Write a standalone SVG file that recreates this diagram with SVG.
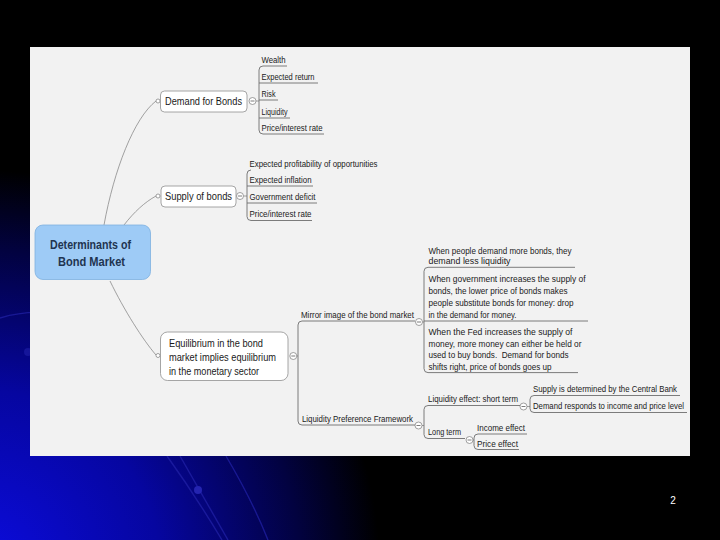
<svg xmlns="http://www.w3.org/2000/svg" width="720" height="540" viewBox="0 0 720 540">
<defs>
<radialGradient id="bg" gradientUnits="userSpaceOnUse" cx="-20" cy="570" r="400">
<stop offset="0" stop-color="#0c0ce0"/>
<stop offset="0.45" stop-color="#0606a0"/>
<stop offset="0.8" stop-color="#020240"/>
<stop offset="1" stop-color="#000000"/>
</radialGradient>
<style>
.t{font-family:"Liberation Sans",Arial,sans-serif;fill:#1a1a1a}
.leaf{font-size:9.5px}
.node{font-size:11.5px}
.root{font-size:13px;font-weight:bold;fill:#1f3450}
.box{fill:#ffffff;stroke:#8f8f8f;stroke-width:0.8}
.ln{fill:none;stroke:#8a8a8a;stroke-width:0.8}
.ul{fill:none;stroke:#6e6e6e;stroke-width:0.9}
.cc{fill:#ffffff;stroke:#7a7a7a;stroke-width:0.7}
.deco{fill:none;stroke:#2222a8;stroke-width:1.4;opacity:0.7}
</style>
</defs>
<rect width="720" height="540" fill="#000"/>
<rect width="720" height="540" fill="url(#bg)"/>
<path class="deco" d="M0,318 Q60,300 120,340"/>
<circle cx="28" cy="352" r="4" fill="#2020a8" opacity="0.6"/>
<path class="deco" d="M167,456 Q195,495 222,540"/>
<path class="deco" d="M180,456 Q205,500 228,540"/>
<path class="deco" d="M226,456 Q252,500 268,540"/>
<circle cx="198" cy="490" r="4" fill="#2424b0"/>
<rect x="30" y="47" width="660" height="409" fill="#f2f2f2"/>
<text x="673" y="504" font-family="Liberation Sans,Arial,sans-serif" font-size="10" fill="#ffffff" text-anchor="middle">2</text>

<g id="connectors">
<path class="ln" d="M104,225 C114,170 134,118 156,101"/>
<path class="ln" d="M124,225 C134,212 145,202 156,196"/>
<path class="ln" d="M110,281 C124,310 143,340 156,355"/>
<circle cx="158" cy="101" r="2" class="cc"/>
<circle cx="158" cy="196" r="2" class="cc"/>
<circle cx="158" cy="355.5" r="2" class="cc"/>
<path class="ln" d="M256,101 H259"/>
<path class="ul" d="M263,66 Q259,66 259,70 V130 Q259,134 263,134"/>
<path class="ln" d="M243.5,196 H247"/>
<path class="ul" d="M251,170 Q247,170 247,174 V216.5 Q247,220.5 251,220.5"/>
<path class="ln" d="M296.8,356 H298"/>
<path class="ul" d="M302,321 Q298,321 298,325 V421 Q298,425 302,425"/>
<path class="ln" d="M422.5,322 H424"/>
<path class="ul" d="M428,267.3 Q424,267.3 424,271.3 V368.6 Q424,372.6 428,372.6"/>
<path class="ln" d="M422,425.5 H424"/>
<path class="ul" d="M428,405.5 Q424,405.5 424,409.5 V434.5 Q424,438.5 428,438.5"/>
<path class="ln" d="M527,406.5 H530"/>
<path class="ul" d="M534,395.5 Q530,395.5 530,399.5 V408.5 Q530,412.5 534,412.5"/>
<path class="ln" d="M473,440 H474"/>
<path class="ul" d="M478,434 Q474,434 474,438 V445.5 Q474,449.5 478,449.5"/>
</g>

<g id="root">
<rect x="35" y="225" width="115.5" height="54.5" rx="8" fill="#9ecbf6" stroke="#7eb0e0" stroke-width="0.8"/>
<text class="t root" x="50" y="249" textLength="81" lengthAdjust="spacingAndGlyphs">Determinants of</text>
<text class="t root" x="58" y="265.5" textLength="67" lengthAdjust="spacingAndGlyphs">Bond Market</text>
</g>

<g id="demand">
<rect class="box" x="160.5" y="91" width="86.5" height="21" rx="4"/>
<text class="t node" x="165" y="105" textLength="77" lengthAdjust="spacingAndGlyphs">Demand for Bonds</text>
<circle class="cc" cx="252.5" cy="101" r="3.5"/><path class="ul" d="M250.5,101 H254.5"/>
</g>
<g id="demand-wealth"><text class="t leaf" x="261.5" y="63" textLength="24" lengthAdjust="spacingAndGlyphs">Wealth</text><path class="ul" d="M263,66 H287"/></g>
<g id="demand-return"><text class="t leaf" x="261.5" y="80" textLength="53" lengthAdjust="spacingAndGlyphs">Expected return</text><path class="ul" d="M259,83 H318"/></g>
<g id="demand-risk"><text class="t leaf" x="261.5" y="97" textLength="14" lengthAdjust="spacingAndGlyphs">Risk</text><path class="ul" d="M259,100 H278"/></g>
<g id="demand-liquidity"><text class="t leaf" x="261.5" y="115" textLength="26" lengthAdjust="spacingAndGlyphs">Liquidity</text><path class="ul" d="M259,118 H290"/></g>
<g id="demand-price"><text class="t leaf" x="261.5" y="131" textLength="61" lengthAdjust="spacingAndGlyphs">Price/interest rate</text><path class="ul" d="M263,134 H324"/></g>

<g id="supply">
<rect class="box" x="161" y="186" width="75" height="21" rx="4"/>
<text class="t node" x="165" y="200" textLength="67" lengthAdjust="spacingAndGlyphs">Supply of bonds</text>
<circle class="cc" cx="240" cy="196" r="3.5"/><path class="ul" d="M238,196 H242"/>
</g>
<g id="supply-profit"><text class="t leaf" x="249.5" y="167" textLength="128" lengthAdjust="spacingAndGlyphs">Expected profitability of opportunities</text></g>
<g id="supply-inflation"><text class="t leaf" x="249.5" y="183" textLength="62" lengthAdjust="spacingAndGlyphs">Expected inflation</text><path class="ul" d="M247,186 H313"/></g>
<g id="supply-deficit"><text class="t leaf" x="249.5" y="200" textLength="66" lengthAdjust="spacingAndGlyphs">Government deficit</text><path class="ul" d="M247,203 H317"/></g>
<g id="supply-price"><text class="t leaf" x="249.5" y="217" textLength="62" lengthAdjust="spacingAndGlyphs">Price/interest rate</text><path class="ul" d="M251,220.5 H312"/></g>

<g id="equilibrium">
<rect class="box" x="160.5" y="332" width="127.5" height="48.5" rx="7"/>
<text class="t node" x="169" y="346.5" textLength="94" lengthAdjust="spacingAndGlyphs">Equilibrium in the bond</text>
<text class="t node" x="169" y="361" textLength="107" lengthAdjust="spacingAndGlyphs">market implies equilibrium</text>
<text class="t node" x="169" y="374.5" textLength="90" lengthAdjust="spacingAndGlyphs">in the monetary sector</text>
<circle class="cc" cx="293.3" cy="356" r="3.5"/><path class="ul" d="M291.3,356 H295.3"/>
</g>

<g id="mirror">
<text class="t leaf" x="301" y="318" textLength="113" lengthAdjust="spacingAndGlyphs">Mirror image of the bond market</text>
<path class="ul" d="M302,321 H415"/>
<circle class="cc" cx="419" cy="322" r="3.5"/><path class="ul" d="M417,322 H421"/>
</g>
<g id="mirror-1">
<text class="t leaf" x="428.5" y="253.5" textLength="143" lengthAdjust="spacingAndGlyphs">When people demand more bonds, they</text>
<text class="t leaf" x="428.5" y="264" textLength="82" lengthAdjust="spacingAndGlyphs">demand less liquidity</text>
<path class="ul" d="M428,267.3 H575"/>
</g>
<g id="mirror-2">
<text class="t leaf" x="428.5" y="282" textLength="157" lengthAdjust="spacingAndGlyphs">When government increases the supply of</text>
<text class="t leaf" x="428.5" y="294" textLength="139" lengthAdjust="spacingAndGlyphs">bonds, the lower price of bonds makes</text>
<text class="t leaf" x="428.5" y="305.5" textLength="145" lengthAdjust="spacingAndGlyphs">people substitute bonds for money: drop</text>
<text class="t leaf" x="428.5" y="317.5" textLength="88" lengthAdjust="spacingAndGlyphs">in the demand for money.</text>
<path class="ul" d="M424,321 H588"/>
</g>
<g id="mirror-3">
<text class="t leaf" x="428.5" y="334.5" textLength="144" lengthAdjust="spacingAndGlyphs">When the Fed increases the supply of</text>
<text class="t leaf" x="428.5" y="346.5" textLength="153" lengthAdjust="spacingAndGlyphs">money, more money can either be held or</text>
<text class="t leaf" x="428.5" y="358" textLength="140" lengthAdjust="spacingAndGlyphs" xml:space="preserve">used to buy bonds.  Demand for bonds</text>
<text class="t leaf" x="428.5" y="369.5" textLength="123" lengthAdjust="spacingAndGlyphs">shifts right, price of bonds goes up</text>
<path class="ul" d="M428,372.6 H578"/>
</g>

<g id="lpf">
<text class="t leaf" x="302" y="422" textLength="111" lengthAdjust="spacingAndGlyphs">Liquidity Preference Framework</text>
<path class="ul" d="M302,425 H415"/>
<circle class="cc" cx="418.5" cy="425.5" r="3.5"/><path class="ul" d="M416.5,425.5 H420.5"/>
</g>
<g id="liquidity-effect">
<text class="t leaf" x="428" y="401.5" textLength="90" lengthAdjust="spacingAndGlyphs">Liquidity effect: short term</text>
<path class="ul" d="M428,405.5 H520"/>
<circle class="cc" cx="523.5" cy="406.5" r="3.5"/><path class="ul" d="M521.5,406.5 H525.5"/>
</g>
<g id="supply-cb"><text class="t leaf" x="533" y="392" textLength="144" lengthAdjust="spacingAndGlyphs">Supply is determined by the Central Bank</text><path class="ul" d="M534,395.5 H680"/></g>
<g id="demand-income"><text class="t leaf" x="533" y="409" textLength="151" lengthAdjust="spacingAndGlyphs">Demand responds to income and price level</text><path class="ul" d="M534,412.5 H687"/></g>
<g id="long-term">
<text class="t leaf" x="428" y="435" textLength="33" lengthAdjust="spacingAndGlyphs">Long term</text>
<path class="ul" d="M428,438.5 H465"/>
<circle class="cc" cx="469.5" cy="440" r="3.5"/><path class="ul" d="M467.5,440 H471.5"/>
</g>
<g id="income-effect"><text class="t leaf" x="477" y="431" textLength="48" lengthAdjust="spacingAndGlyphs">Income effect</text><path class="ul" d="M478,434 H527"/></g>
<g id="price-effect"><text class="t leaf" x="477" y="446.5" textLength="41" lengthAdjust="spacingAndGlyphs">Price effect</text><path class="ul" d="M478,449.5 H519"/></g>
</svg>
